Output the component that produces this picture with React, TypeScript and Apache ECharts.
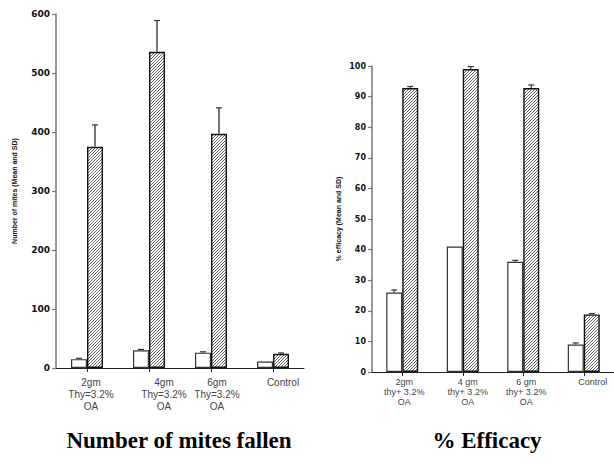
import React, { useEffect, useRef } from "react";
import * as echarts from "echarts";

// Left panel: Number of mites fallen
const mitesCategories = ["2gm\nThy=3.2%\nOA", "4gm\nThy=3.2%\nOA", "6gm\nThy=3.2%\nOA", "Control"];
const mitesLabelShift = [4, 15, 6, 10];
const mitesWhiteMean = [15, 30, 26, 11];
const mitesWhiteSD = [1.5, 1.5, 1.5, 0];
const mitesHatchMean = [375, 536, 397, 24];
const mitesHatchSD = [37, 53, 44, 1.5];

// Right panel: % Efficacy
const effCategories = ["2gm\nthy+ 3.2%\nOA", "4 gm\nthy+ 3.2%\nOA", "6 gm\nthy+ 3.2%\nOA", "Control"];
const effLabelShift = [2, 5, 3, 9];
const effWhiteMean = [26, 41, 36, 9];
const effWhiteSD = [0.8, 0, 0.5, 0.5];
const effHatchMean = [92.8, 99, 92.8, 18.8];
const effHatchSD = [0.5, 0.8, 1.0, 0.3];

const BAR_W = 16;

function makeHatch() {
  const s = 3;
  const c = document.createElement("canvas");
  c.width = s;
  c.height = s;
  const g = c.getContext("2d")!;
  g.fillStyle = "#ffffff";
  g.fillRect(0, 0, s, s);
  g.strokeStyle = "#555555";
  g.lineWidth = 0.9;
  g.beginPath();
  g.moveTo(0, s);
  g.lineTo(s, 0);
  g.moveTo(-1, 1);
  g.lineTo(1, -1);
  g.moveTo(s - 1, s + 1);
  g.lineTo(s + 1, s - 1);
  g.stroke();
  return c;
}

function errSeries(means: number[], sds: number[], offset: number, idx: number, color: string, width: number) {
  return {
    type: "custom",
    xAxisIndex: idx,
    yAxisIndex: idx,
    clip: false,
    z: 5,
    data: means.map((m, i) => [i, m, sds[i]]),
    renderItem: (params: any, api: any) => {
      const sd = api.value(2);
      if (!sd) return null;
      const base = api.coord([api.value(0), api.value(1)]);
      const top = api.coord([api.value(0), api.value(1) + sd]);
      const x = base[0] + offset;
      return {
        type: "group",
        children: [
          { type: "line", shape: { x1: x, y1: base[1], x2: x, y2: top[1] }, style: { stroke: color, lineWidth: width } },
          { type: "line", shape: { x1: x - 3, y1: top[1], x2: x + 3, y2: top[1] }, style: { stroke: "#333", lineWidth: 1.2 } },
        ],
      };
    },
  };
}

export default function App() {
  const ref = useRef<HTMLDivElement>(null);
  useEffect(() => {
    if (!ref.current) return;
    const chart = echarts.init(ref.current, undefined, { renderer: "svg" });
    const hatch = { image: makeHatch(), repeat: "repeat" } as any;

    const catAxis = (gridIndex: number, cats: string[], shifts: number[], fs: number, lh: number, margin: number) => ({
      type: "category",
      gridIndex,
      data: cats.map((c, i) => ({ value: c, textStyle: { padding: [0, 0, 0, shifts[i] * 2] } })),
      axisLine: { lineStyle: { color: "#222", width: 1 } },
      axisTick: { show: true, alignWithLabel: true, length: 4, lineStyle: { color: "#222" } },
      axisLabel: { fontFamily: "Liberation Sans, Arial", fontSize: fs, lineHeight: lh, color: "#444", margin, interval: 0 },
    });

    const valAxis = (gridIndex: number, max: number, interval: number, name: string, gap: number, fs: number) => ({
      type: "value",
      gridIndex,
      min: 0,
      max,
      interval,
      name,
      nameLocation: "middle",
      nameGap: gap,
      nameTextStyle: { fontFamily: "Liberation Sans, Arial", fontSize: 7, fontWeight: "bold", color: "#111" },
      splitLine: { show: false },
      axisLine: { show: true, lineStyle: { color: "#777", width: 1.5 } },
      axisTick: { show: true, length: 4, lineStyle: { color: "#777", width: 1.2 } },
      axisLabel: { fontFamily: "DejaVu Sans", fontSize: fs, fontWeight: "bold", color: "#111", margin: 6 },
    });

    const barStyleWhite = { color: "#fff", borderColor: "#333", borderWidth: 1.2 };
    const barStyleHatch = { color: hatch, borderColor: "#111", borderWidth: 1.4 };

    chart.setOption({
      animation: false,
      backgroundColor: "#fff",
      grid: [
        { left: 56, top: 14, width: 248, height: 354 },
        { left: 372, top: 66, width: 242, height: 306 },
      ],
      xAxis: [
        catAxis(0, mitesCategories, mitesLabelShift, 10, 12, 8),
        catAxis(1, effCategories, effLabelShift, 9, 10, 5),
      ],
      yAxis: [
        valAxis(0, 600, 100, "Number of mites (Mean and SD)", 38, 9),
        valAxis(1, 100, 10, "% efficacy (Mean and SD)", 30, 8),
      ],
      series: [
        { type: "bar", xAxisIndex: 0, yAxisIndex: 0, data: mitesWhiteMean, barWidth: BAR_W, barGap: "0%", itemStyle: barStyleWhite },
        { type: "bar", xAxisIndex: 0, yAxisIndex: 0, data: mitesHatchMean, barWidth: BAR_W, barGap: "0%", itemStyle: barStyleHatch },
        { type: "bar", xAxisIndex: 1, yAxisIndex: 1, data: effWhiteMean, barWidth: BAR_W, barGap: "0%", itemStyle: barStyleWhite },
        { type: "bar", xAxisIndex: 1, yAxisIndex: 1, data: effHatchMean, barWidth: BAR_W, barGap: "0%", itemStyle: barStyleHatch },
        errSeries(mitesWhiteMean, mitesWhiteSD, -BAR_W / 2, 0, "#666", 1.5),
        errSeries(mitesHatchMean, mitesHatchSD, BAR_W / 2, 0, "#777", 2),
        errSeries(effWhiteMean, effWhiteSD, -BAR_W / 2, 1, "#666", 1.5),
        errSeries(effHatchMean, effHatchSD, BAR_W / 2, 1, "#666", 1.5),
      ],
      graphic: [
        {
          type: "text",
          x: 179,
          y: 440,
          style: { text: "Number of mites fallen", font: "bold 23px 'Liberation Serif', 'Times New Roman', serif", fill: "#000", align: "center", verticalAlign: "middle" },
        },
        {
          type: "text",
          x: 487,
          y: 440,
          style: { text: "% Efficacy", font: "bold 23px 'Liberation Serif', 'Times New Roman', serif", fill: "#000", align: "center", verticalAlign: "middle" },
        },
      ],
    });
    return () => chart.dispose();
  }, []);
  return <div ref={ref} style={{ position: "fixed", left: 0, top: 0, width: 614, height: 464, background: "#fff" }} />;
}
